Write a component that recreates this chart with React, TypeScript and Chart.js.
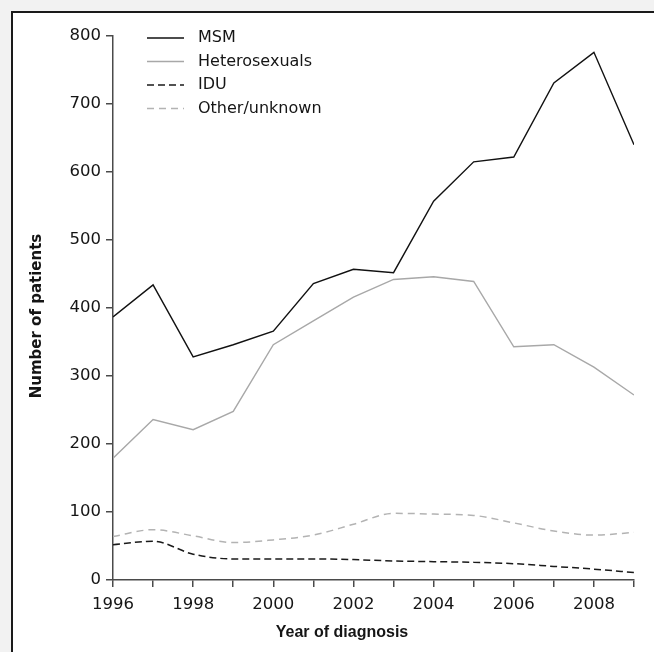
import React, { useEffect, useRef } from "react";
import { Chart, registerables } from "chart.js";

Chart.register(...registerables);

const years = [1996, 1997, 1998, 1999, 2000, 2001, 2002, 2003, 2004, 2005, 2006, 2007, 2008, 2009];
const msm = [387, 434, 328, 346, 366, 436, 457, 452, 557, 615, 622, 731, 776, 640];
const heterosexuals = [179, 236, 221, 248, 346, 381, 416, 442, 446, 439, 343, 346, 313, 272];
const idu = [52, 57, 38, 31, 31, 31, 30, 28, 27, 26, 24, 20, 16, 11];
const other = [64, 74, 65, 55, 59, 66, 82, 98, 97, 95, 84, 72, 66, 70];

const seriesLabels = ["MSM", "Heterosexuals", "IDU", "Other/unknown"];
const yTicks = [0, 100, 200, 300, 400, 500, 600, 700, 800];
const xTitle = "Year of diagnosis";
const yTitle = "Number of patients";

const AXIS_COLOR = "#4a4a4a";
const TEXT_COLOR = "#151515";

const textPlugin = {
  id: "customText",
  afterDraw(chart: any) {
    const ctx = chart.ctx as CanvasRenderingContext2D;
    ctx.save();
    // legend
    chart.data.datasets.forEach((ds: any, i: number) => {
      const y = 25 + i * 23.5;
      ctx.strokeStyle = ds.borderColor;
      ctx.lineWidth = ds.borderWidth;
      ctx.setLineDash(ds.borderDash || []);
      ctx.beginPath();
      ctx.moveTo(134, y);
      ctx.lineTo(171, y);
      ctx.stroke();
      ctx.setLineDash([]);
      ctx.fillStyle = TEXT_COLOR;
      ctx.font = '16px "DejaVu Sans"';
      ctx.textAlign = "left";
      ctx.textBaseline = "middle";
      ctx.fillText(ds.label, 185, y);
    });
    // x title
    ctx.fillStyle = TEXT_COLOR;
    ctx.font = 'bold 16px "Liberation Sans"';
    ctx.textAlign = "center";
    ctx.textBaseline = "alphabetic";
    ctx.fillText(xTitle, 329, 624);
    // y title
    ctx.translate(24, 303);
    ctx.rotate(-Math.PI / 2);
    ctx.font = 'bold 15px "DejaVu Sans"';
    ctx.textAlign = "center";
    ctx.textBaseline = "middle";
    ctx.fillText(yTitle, 0, 0);
    ctx.restore();
  },
};

export default function App() {
  const canvasRef = useRef<HTMLCanvasElement | null>(null);

  useEffect(() => {
    const canvas = canvasRef.current;
    if (!canvas) return;
    const toPts = (arr: number[]) => years.map((x, i) => ({ x, y: arr[i] }));
    const chart = new Chart(canvas, {
      type: "line",
      data: {
        datasets: [
          {
            label: seriesLabels[0],
            data: toPts(msm),
            borderColor: "#111111",
            borderWidth: 1.4,
            pointRadius: 0,
            tension: 0,
          },
          {
            label: seriesLabels[1],
            data: toPts(heterosexuals),
            borderColor: "#a8a8a8",
            borderWidth: 1.4,
            pointRadius: 0,
            tension: 0,
          },
          {
            label: seriesLabels[2],
            data: toPts(idu),
            borderColor: "#1a1a1a",
            borderWidth: 1.5,
            borderDash: [7, 4],
            pointRadius: 0,
            cubicInterpolationMode: "monotone",
          },
          {
            label: seriesLabels[3],
            data: toPts(other),
            borderColor: "#b3b3b3",
            borderWidth: 1.5,
            borderDash: [7, 5],
            pointRadius: 0,
            cubicInterpolationMode: "monotone",
          },
        ],
      },
      options: {
        responsive: false,
        animation: false,
        devicePixelRatio: 1,
        layout: { padding: { top: 23, right: 20, left: 0, bottom: 0 } },
        plugins: { legend: { display: false }, tooltip: { enabled: false } },
        scales: {
          x: {
            type: "linear",
            min: years[0],
            max: years[years.length - 1],
            afterFit: (s: any) => {
              s.height = 72;
            },
            ticks: {
              stepSize: 1,
              autoSkip: false,
              maxRotation: 0,
              padding: 8,
              color: TEXT_COLOR,
              font: { family: "DejaVu Sans", size: 16.5 },
              callback: (v: any) => (Number(v) % 2 === 0 ? String(v) : ""),
            },
            grid: {
              drawOnChartArea: false,
              drawTicks: true,
              tickLength: 7,
              color: AXIS_COLOR,
              lineWidth: 1.5,
            },
            border: { display: true, color: AXIS_COLOR, width: 1.5 },
          },
          y: {
            type: "linear",
            min: yTicks[0],
            max: yTicks[yTicks.length - 1],
            afterFit: (s: any) => {
              s.width = 100;
            },
            afterBuildTicks: (s: any) => {
              s.ticks = yTicks.map((v) => ({ value: v }));
            },
            ticks: {
              padding: 5,
              color: TEXT_COLOR,
              font: { family: "DejaVu Sans", size: 16.5 },
              callback: (v: any) => String(v),
            },
            grid: {
              drawOnChartArea: false,
              drawTicks: true,
              tickLength: 7,
              color: AXIS_COLOR,
              lineWidth: 1.5,
            },
            border: { display: true, color: AXIS_COLOR, width: 1.5 },
          },
        },
      },
      plugins: [textPlugin],
    } as any);
    return () => chart.destroy();
  }, []);

  return (
    <div
      style={{
        position: "absolute",
        left: 0,
        top: 0,
        width: 654,
        height: 652,
        background: "#f2f2f2",
        overflow: "hidden",
      }}
    >
      <div
        style={{
          position: "absolute",
          left: 11,
          top: 11,
          width: 643,
          height: 641,
          boxSizing: "border-box",
          background: "#ffffff",
          borderTop: "2px solid #1a1a1a",
          borderLeft: "2px solid #1a1a1a",
        }}
      />
      <canvas
        ref={canvasRef}
        width={641}
        height={639}
        style={{ position: "absolute", left: 13, top: 13, width: 641, height: 639 }}
      />
    </div>
  );
}
